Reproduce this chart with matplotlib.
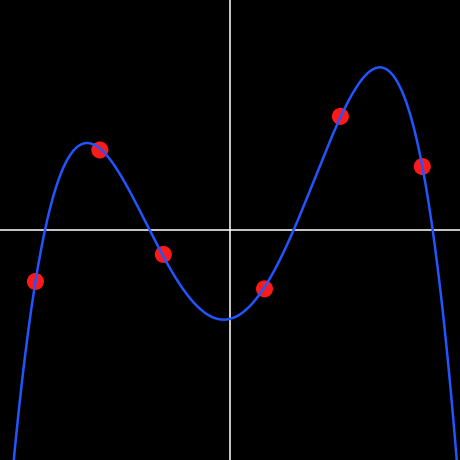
import numpy as np
import matplotlib
matplotlib.use("Agg")
import matplotlib.pyplot as plt

# sample points
xs = [-4.23, -2.83, -1.45, 0.75, 2.40, 4.18]
ys = [-1.12, 1.74, -0.53, -1.28, 2.47, 1.38]

# the curve is a least-squares quartic through the points
coef = np.polyfit(xs, ys, 4)
xx = np.linspace(-5, 5, 600)
yy = np.polyval(coef, xx)

fig = plt.figure(figsize=(4.6001, 4.6001), dpi=100, facecolor="black")
ax = fig.add_axes([0, 0, 1, 1])
ax.set_facecolor("black")
ax.set_xlim(-5, 5)
ax.set_ylim(-5, 5)
ax.axhline(0, color="white", lw=1.1, zorder=1)
ax.axvline(0, color="white", lw=1.1, zorder=1)
ax.plot(xx, yy, color="#2255ff", lw=1.8, zorder=3)
ax.scatter(xs, ys, s=150, color="#ff1a1a", edgecolors="none", zorder=2)
ax.axis("off")

fig.savefig("out.png", dpi=100, facecolor="black")
